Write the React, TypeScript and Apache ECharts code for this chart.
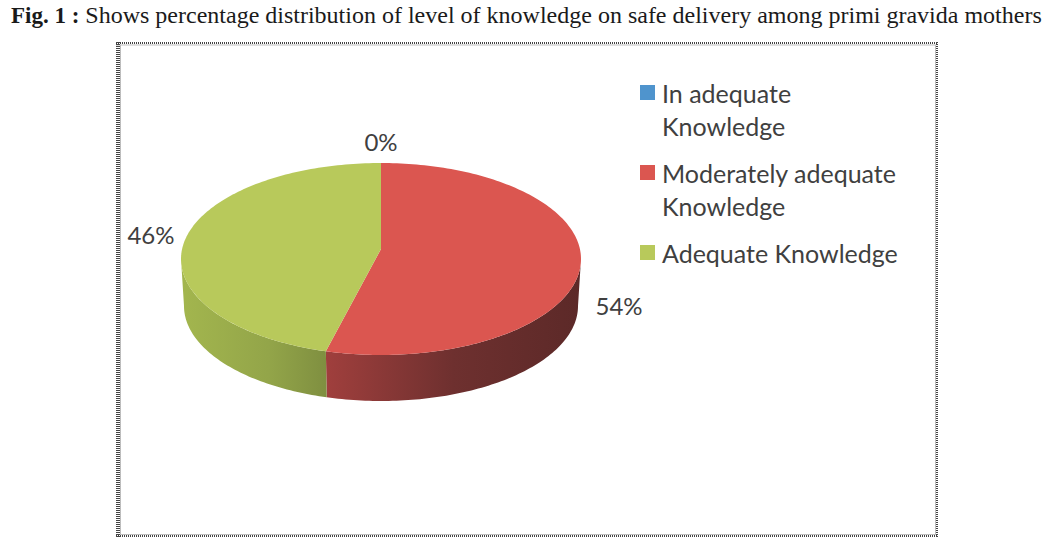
import React, { useEffect, useRef } from "react";
import * as echarts from "echarts";

const categories = ["In adequate\nKnowledge", "Moderately adequate\nKnowledge", "Adequate Knowledge"];
const values = [0, 54, 46];
const topColors = ["#4F94CD", "#DB5650", "#B8C95B"];
const wallStops: [number, string][][] = [
  [[0, "#3B6E99"], [1, "#3B6E99"]],
  [[0, "#A03F3D"], [0.5, "#6E302F"], [1, "#5C2928"]],
  [[0, "#A3B64E"], [0.6, "#93A549"], [1, "#7F8F40"]],
];
const labelOffsets = [[0, -22], [40, 33], [-32, -11]];
const titleBold = "Fig. 1 :";
const titleText = " Shows percentage distribution of level of knowledge on safe delivery among primi gravida mothers";

const PIE = { cx: 381, cy: 259, rx: 200, ry: 96, apexY: 249, bcy: 306, brx: 197, bry: 95, skew: 0.058 };
const total = values.reduce((a, b) => a + b, 0);
const LABEL_FONT = "Lato";

// Perspective: slices nearer the viewer open up slightly.
const warp = (a: number) => a + PIE.skew * Math.sin(2 * a);

function arc(a0: number, a1: number, cx: number, cy: number, rx: number, ry: number) {
  const n = Math.max(2, Math.ceil(Math.abs(a1 - a0) / 0.02));
  const pts: number[][] = [];
  for (let i = 0; i <= n; i++) {
    const a = a0 + ((a1 - a0) * i) / n;
    pts.push([cx + rx * Math.sin(a), cy - ry * Math.cos(a)]);
  }
  return pts;
}

function renderSlice(params: any, api: any) {
  const idx = params.seriesIndex;
  const v = api.value(0) as number;
  const before = values.slice(0, idx).reduce((a, b) => a + b, 0);
  const a0 = warp((before / total) * Math.PI * 2);
  const a1 = warp(((before + v) / total) * Math.PI * 2);
  const mid = (a0 + a1) / 2;
  const children: any[] = [];
  const { cx, cy, rx, ry, apexY, bcy, brx, bry } = PIE;
  if (v > 0) {
    const w0 = Math.max(a0, Math.PI / 2);
    const w1 = Math.min(a1, (Math.PI * 3) / 2);
    if (w1 > w0) {
      const top = arc(w0, w1, cx, cy, rx, ry);
      const bottom = arc(w1, w0, cx, bcy, brx, bry);
      children.push({
        type: "polygon",
        shape: { points: top.concat(bottom) },
        style: {
          fill: new echarts.graphic.LinearGradient(0, 0, 1, 0, wallStops[idx].map(([offset, color]) => ({ offset, color }))),
        },
        silent: true,
      });
    }
    children.push({
      type: "polygon",
      shape: { points: [[cx, apexY] as number[]].concat(arc(a0, a1, cx, cy, rx, ry)) },
      style: { fill: topColors[idx] },
      silent: true,
    });
  }
  const off = labelOffsets[idx];
  children.push({
    type: "text",
    x: cx + rx * Math.sin(mid) + off[0],
    y: cy - ry * Math.cos(mid) + off[1],
    style: {
      text: `${v}%`,
      fill: "#404040",
      font: `24px ${LABEL_FONT}`,
      align: "center",
      verticalAlign: "middle",
    },
    silent: true,
  });
  return { type: "group", children };
}

export default function App() {
  const ref = useRef<HTMLDivElement>(null);
  useEffect(() => {
    const chart = echarts.init(ref.current!, undefined, { renderer: "svg" });
    chart.setOption({
      animation: false,
      backgroundColor: "#FFFFFF",
      color: topColors,
      title: {
        left: 6,
        top: -2,
        text: `{b|${titleBold}}{r|${titleText}}`,
        textStyle: {
          rich: {
            b: { fontFamily: "Liberation Serif", fontSize: 23, fontWeight: "bold", color: "#1A1A1A" },
            r: { fontFamily: "Liberation Serif", fontSize: 24, fontWeight: "normal", color: "#1A1A1A" },
          },
        },
      },
      legend: {
        orient: "vertical",
        left: 635,
        top: 71,
        itemWidth: 15,
        itemHeight: 66,
        itemGap: 14,
        selectedMode: false,
        icon: "path://M0 0L0 0ZM0 9H15V24H0ZM0 66L0 66Z",
        data: categories,
        formatter: (name: string) => (name.includes("\n") ? name : `${name}\n `),
        textStyle: {
          fontFamily: LABEL_FONT,
          fontSize: 25,
          lineHeight: 33,
          color: "#404040",
          padding: [0, 0, 0, 2],
        },
      },
      graphic: [
        { type: "line", silent: true, shape: { x1: 116, y1: 43, x2: 938, y2: 43 }, style: { stroke: "#444444", lineWidth: 2, lineDash: [1, 1] } },
        { type: "line", silent: true, shape: { x1: 116, y1: 45, x2: 936, y2: 45 }, style: { stroke: "#BDBDBD", lineWidth: 1 } },
        { type: "line", silent: true, shape: { x1: 116, y1: 536, x2: 938, y2: 536 }, style: { stroke: "#444444", lineWidth: 2, lineDash: [1, 1] } },
        { type: "line", silent: true, shape: { x1: 120, y1: 534.5, x2: 936, y2: 534.5 }, style: { stroke: "#BDBDBD", lineWidth: 1 } },
        { type: "line", silent: true, shape: { x1: 118, y1: 42, x2: 118, y2: 537 }, style: { stroke: "#444444", lineWidth: 4, lineDash: [1, 1] } },
        { type: "line", silent: true, shape: { x1: 120.5, y1: 45, x2: 120.5, y2: 535 }, style: { stroke: "#BDBDBD", lineWidth: 1 } },
        { type: "line", silent: true, shape: { x1: 937, y1: 42, x2: 937, y2: 537 }, style: { stroke: "#444444", lineWidth: 2, lineDash: [1, 1] } },
        { type: "line", silent: true, shape: { x1: 935.5, y1: 45, x2: 935.5, y2: 535 }, style: { stroke: "#BDBDBD", lineWidth: 1 } },
      ],
      series: categories.map((name, i) => ({
        type: "custom",
        name,
        coordinateSystem: "none",
        itemStyle: { color: topColors[i] },
        renderItem: renderSlice,
        data: [[values[i]]],
        silent: true,
      })),
    });
    return () => chart.dispose();
  }, []);
  return <div ref={ref} style={{ position: "absolute", left: 0, top: 0, width: 1052, height: 543 }} />;
}
